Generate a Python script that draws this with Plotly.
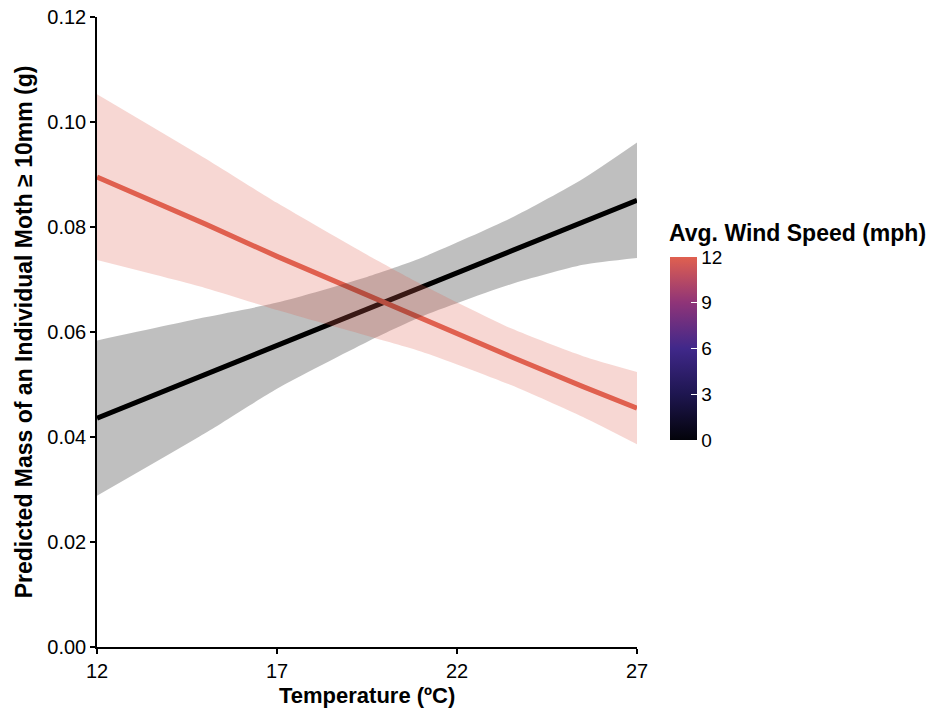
import plotly.graph_objects as go

# Predicted moth mass vs. temperature at two wind speeds (0 and 12 mph)
temperature = [12, 15, 17, 19.5, 21, 23.5, 25.5, 27]

calm_fit = [0.0436, 0.0519, 0.0574, 0.0643, 0.0685, 0.0754, 0.0810, 0.0851]
calm_upper = [0.0584, 0.0628, 0.0656, 0.0705, 0.0741, 0.0817, 0.0892, 0.0961]
calm_lower = [0.0288, 0.0407, 0.0492, 0.0581, 0.0629, 0.0691, 0.0728, 0.0741]

windy_fit = [0.0895, 0.0806, 0.0744, 0.0670, 0.0627, 0.0553, 0.0496, 0.0455]
windy_upper = [0.1053, 0.0931, 0.0846, 0.0747, 0.0691, 0.0607, 0.0554, 0.0524]
windy_lower = [0.0737, 0.0684, 0.0642, 0.0593, 0.0563, 0.0499, 0.0438, 0.0386]

wind_ticks = [0, 3, 6, 9, 12]
x_ticks = [12, 17, 22, 27]
y_ticks = [0.00, 0.02, 0.04, 0.06, 0.08, 0.10, 0.12]

RED = "#E0604F"
FONT = "Liberation Sans, Arial, sans-serif"

wind_scale = [
    [0.0, "#03030a"],
    [0.25, "#1e1650"],
    [0.5, "#40288a"],
    [0.75, "#8f3478"],
    [1.0, RED],
]

fig = go.Figure()

# fitted lines (drawn first so the ribbons tint them)
fig.add_trace(go.Scatter(x=temperature, y=calm_fit, mode="lines",
                         line=dict(color="black", width=5),
                         showlegend=False, hoverinfo="skip"))
fig.add_trace(go.Scatter(x=temperature, y=windy_fit, mode="lines",
                         line=dict(color=RED, width=5),
                         showlegend=False, hoverinfo="skip"))

# confidence ribbons
for lower, upper, fill in [(calm_lower, calm_upper, "rgba(0,0,0,0.25)"),
                           (windy_lower, windy_upper, "rgba(224,96,79,0.25)")]:
    fig.add_trace(go.Scatter(x=temperature, y=lower, mode="lines",
                             line=dict(width=0, shape="spline", smoothing=0.6),
                             showlegend=False, hoverinfo="skip"))
    fig.add_trace(go.Scatter(x=temperature, y=upper, mode="lines",
                             line=dict(width=0, shape="spline", smoothing=0.6),
                             fill="tonexty", fillcolor=fill,
                             showlegend=False, hoverinfo="skip"))

# colour bar for wind speed
CB_X = (670 - 97) / 540
CB_Y = (647 - 348.5) / 630
fig.add_trace(go.Scatter(
    x=[None, None], y=[None, None], mode="markers",
    marker=dict(color=[wind_ticks[0], wind_ticks[-1]], cmin=0, cmax=12,
                colorscale=wind_scale, showscale=True,
                colorbar=dict(
                    x=CB_X, xanchor="left",
                    y=CB_Y, yanchor="middle",
                    thickness=27, thicknessmode="pixels",
                    len=183, lenmode="pixels",
                    xpad=0, ypad=0, outlinewidth=0,
                    tickvals=wind_ticks, ticktext=[str(v) for v in wind_ticks],
                    ticks="inside", ticklen=6, tickcolor="white", tickwidth=1,
                    tickfont=dict(family=FONT, size=19, color="black"),
                )),
    showlegend=False, hoverinfo="skip"))

fig.add_annotation(text="<b>Avg. Wind Speed (mph)</b>", xref="paper", yref="paper",
                   x=(667 - 97) / 540, y=(647 - 233) / 630, xanchor="left", yanchor="middle",
                   showarrow=False, font=dict(family=FONT, size=23, color="black"))

# x-axis title
fig.add_annotation(text="<b>Temperature (ºC)</b>", xref="paper", yref="paper",
                   x=0.5, y=(647 - 695) / 630, xanchor="center", yanchor="middle",
                   showarrow=False, font=dict(family=FONT, size=22, color="black"))

axis_common = dict(showgrid=False, zeroline=False, showline=True, linecolor="black",
                   linewidth=1.5, ticks="outside", ticklen=5, tickwidth=1.5, tickcolor="black",
                   automargin=False,
                   tickfont=dict(family=FONT, size=20, color="black"))

fig.update_xaxes(range=[12, 27], tickvals=x_ticks, ticktext=[str(v) for v in x_ticks],
                 **axis_common)
fig.update_yaxes(range=[0, 0.12], tickvals=y_ticks, ticktext=[f"{v:.2f}" for v in y_ticks],
                 title=dict(text="<b>Predicted Mass of an Individual Moth ≥ 10mm (g)</b>",
                            font=dict(family=FONT, size=23, color="black"), standoff=8),
                 **axis_common)

fig.update_layout(width=937, height=711, margin=dict(l=97, r=300, t=17, b=64),
                  plot_bgcolor="white", paper_bgcolor="white",
                  font=dict(family=FONT, color="black"))

fig.write_html("out.html")
